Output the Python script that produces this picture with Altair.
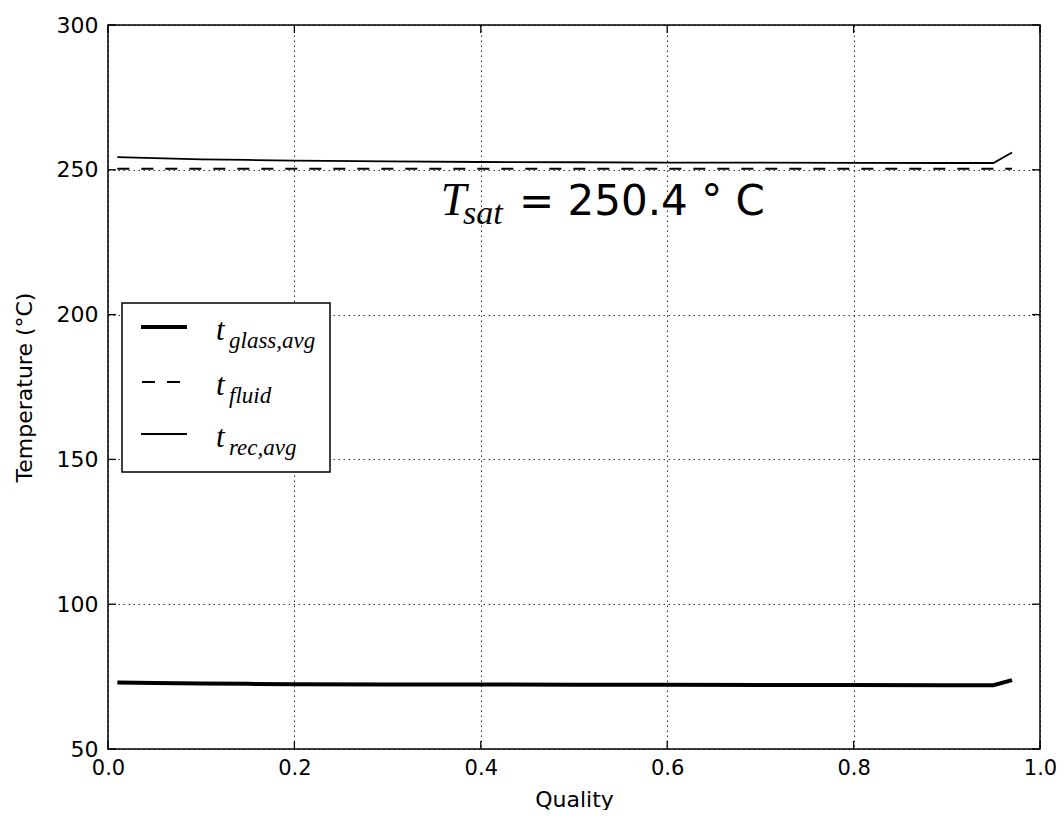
import altair as alt
import pandas as pd

# ---- data ----
quality = [0.01, 0.05, 0.1, 0.15, 0.2, 0.3, 0.4, 0.5, 0.6, 0.7, 0.8, 0.9, 0.95, 0.97]
t_rec_avg = [254.4, 254.0, 253.6, 253.4, 253.2, 252.9, 252.7, 252.6, 252.5, 252.45, 252.4, 252.35, 252.35, 256.0]
t_glass_avg = [73.0, 72.8, 72.6, 72.5, 72.4, 72.3, 72.25, 72.2, 72.15, 72.1, 72.1, 72.05, 72.05, 73.8]
t_fluid = [250.4] * len(quality)

x_ticks = [0.0, 0.2, 0.4, 0.6, 0.8, 1.0]
y_ticks = [50, 100, 150, 200, 250, 300]

ann_x = [0.357, 0.381, 0.441]
ann_y = [234.4, 231.4, 234.4]
ann_text = ["T", "sat", "= 250.4 ° C"]

legend_main = ["t", "t", "t"]
legend_sub = ["glass,avg", "fluid", "rec,avg"]

W, H = 932, 724

df = pd.DataFrame({"q": quality, "rec": t_rec_avg, "glass": t_glass_avg, "fluid": t_fluid})

xs = alt.Scale(domain=[0, 1], nice=False, zero=False, padding=0)
ys = alt.Scale(domain=[50, 300], nice=False, zero=False, padding=0)

xaxis = alt.Axis(values=x_ticks, format=".1f", title="Quality", grid=True, ticks=False, domain=False,
                 labelFontSize=21, labelFont="DejaVu Sans", labelColor="black", labelPadding=8,
                 labelFlush=False, labelOverlap=False, labelBound=False,
                 titleFontSize=22, titleFont="DejaVu Sans", titleFontWeight="normal", titleColor="black",
                 titleX=W / 2, titleY=57, titleBaseline="alphabetic",
                 gridColor="black", gridDash=[1.5, 3.5], gridWidth=1, gridOpacity=0.8)
yaxis = alt.Axis(values=y_ticks, format="d", title="Temperature (°C)", grid=True, ticks=False, domain=False,
                 labelFontSize=22, labelFont="DejaVu Sans", labelColor="black", labelPadding=10,
                 labelFlush=False, labelOverlap=False,
                 titleFontSize=22, titleFont="DejaVu Sans", titleFontWeight="normal", titleColor="black",
                 titleX=-84, titleY=H / 2, titleAngle=270, titleAlign="center", titleBaseline="middle",
                 gridColor="black", gridDash=[1.5, 3.5], gridWidth=1, gridOpacity=0.8)

base = alt.Chart(df)

glass = base.mark_line(color="black", strokeWidth=4).encode(
    x=alt.X("q:Q", scale=xs, axis=xaxis), y=alt.Y("glass:Q", scale=ys, axis=yaxis))
fluid = base.mark_line(color="black", strokeWidth=2, strokeDash=[12, 12]).encode(
    x=alt.X("q:Q", scale=xs), y=alt.Y("fluid:Q", scale=ys))
rec = base.mark_line(color="black", strokeWidth=1.8).encode(
    x=alt.X("q:Q", scale=xs), y=alt.Y("rec:Q", scale=ys))

# inward ticks on all four sides
xt = pd.DataFrame({"v": x_ticks})
yt = pd.DataFrame({"v": y_ticks})
tick_b = alt.Chart(xt).mark_rule(color="black", strokeWidth=1.3).encode(
    x=alt.X("v:Q", scale=xs), y=alt.value(H - 8), y2=alt.value(H))
tick_t = alt.Chart(xt).mark_rule(color="black", strokeWidth=1.3).encode(
    x=alt.X("v:Q", scale=xs), y=alt.value(0), y2=alt.value(8))
tick_l = alt.Chart(yt).mark_rule(color="black", strokeWidth=1.3).encode(
    y=alt.Y("v:Q", scale=ys), x=alt.value(0), x2=alt.value(8))
tick_r = alt.Chart(yt).mark_rule(color="black", strokeWidth=1.3).encode(
    y=alt.Y("v:Q", scale=ys), x=alt.value(W - 8), x2=alt.value(W))

# annotation
ann = pd.DataFrame({"x": ann_x, "y": ann_y, "t": ann_text})
ann_T = alt.Chart(ann.iloc[[0]]).mark_text(font="Liberation Serif", fontStyle="italic", fontSize=46,
                                           align="left", baseline="alphabetic", color="black").encode(
    x=alt.X("x:Q", scale=xs), y=alt.Y("y:Q", scale=ys), text="t:N")
ann_sub = alt.Chart(ann.iloc[[1]]).mark_text(font="Liberation Serif", fontStyle="italic", fontSize=34,
                                             align="left", baseline="alphabetic", color="black").encode(
    x=alt.X("x:Q", scale=xs), y=alt.Y("y:Q", scale=ys), text="t:N")
ann_rest = alt.Chart(ann.iloc[[2]]).mark_text(font="DejaVu Sans", fontSize=42,
                                              align="left", baseline="alphabetic", color="black").encode(
    x=alt.X("x:Q", scale=xs), y=alt.Y("y:Q", scale=ys), text="t:N")

# custom legend (layout in pixels)
one = pd.DataFrame({"a": [0]})
leg_box = alt.Chart(one).mark_rect(fill="white", stroke="black", strokeWidth=1.5).encode(
    x=alt.value(14), x2=alt.value(222), y=alt.value(278), y2=alt.value(447))
sample_y = [302, 357, 409]
leg_glass = alt.Chart(one).mark_rule(color="black", strokeWidth=4).encode(
    x=alt.value(33), x2=alt.value(79), y=alt.value(sample_y[0]))
leg_fluid = alt.Chart(one).mark_rule(color="black", strokeWidth=2, strokeDash=[13, 12]).encode(
    x=alt.value(34), x2=alt.value(79), y=alt.value(sample_y[1]))
leg_rec = alt.Chart(one).mark_rule(color="black", strokeWidth=1.8).encode(
    x=alt.value(33), x2=alt.value(79), y=alt.value(sample_y[2]))

leg_texts = []
for i in range(3):
    d = pd.DataFrame({"m": [legend_main[i]], "s": [legend_sub[i]]})
    leg_texts.append(alt.Chart(d).mark_text(font="Liberation Serif", fontStyle="italic", fontSize=31,
                                            align="left", baseline="alphabetic", color="black").encode(
        x=alt.value(108), y=alt.value(sample_y[i] + 13), text="m:N"))
    leg_texts.append(alt.Chart(d).mark_text(font="Liberation Serif", fontStyle="italic", fontSize=23,
                                            align="left", baseline="alphabetic", color="black").encode(
        x=alt.value(121), y=alt.value(sample_y[i] + 21), text="s:N"))

chart = alt.layer(
    glass, fluid, rec, tick_b, tick_t, tick_l, tick_r, ann_T, ann_sub, ann_rest,
    leg_box, leg_glass, leg_fluid, leg_rec, *leg_texts
).properties(
    width=W, height=H,
    autosize=alt.AutoSizeParams(type="none"),
    padding={"left": 100, "top": 17, "right": 16, "bottom": 61},
    background="white",
).configure_view(stroke="black", strokeWidth=1.5)

chart.save("out.html", embed_options={"renderer": "svg", "actions": False})
